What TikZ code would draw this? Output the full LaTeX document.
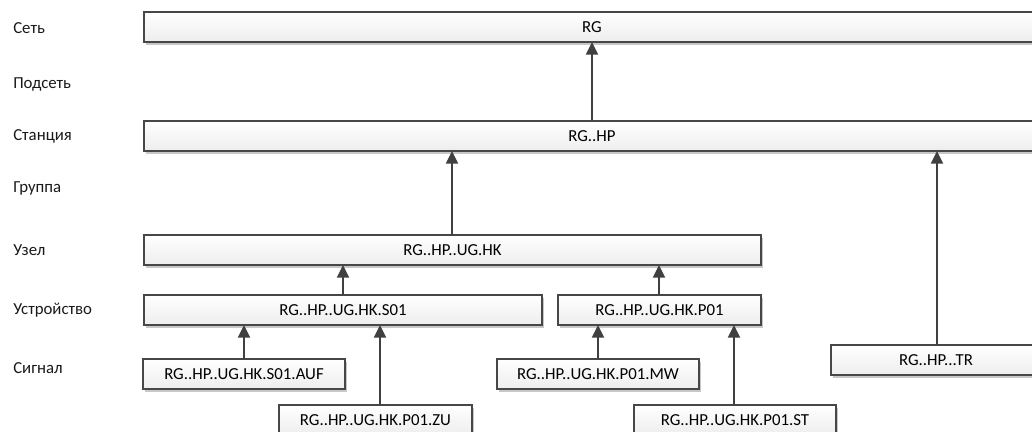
\documentclass[tikz,border=0pt]{standalone}
\usepackage{fontspec}
\setmainfont{Carlito}
\usetikzlibrary{shadows,arrows.meta}
\newcommand\mybox[6]{\node[box, minimum width={(#4-#2)*0.75pt}, minimum height={(#5-#3)*0.75pt}] (#1) at ({(#2+#4)/2},{(#3+#5)/2}) {#6};}
\begin{document}
\begin{tikzpicture}[x=0.75pt,y=-0.75pt,
  font=\fontsize{12.6}{15}\selectfont,
  box/.style={draw=black!72, line width=0.8pt, inner sep=0pt, outer sep=0pt,
    top color=white, bottom color=black!7,
    drop shadow={shadow xshift=1.5pt, shadow yshift=-2pt, fill=black!22, opacity=1}},
  lvl/.style={anchor=west, inner sep=0pt, text=black!90},
  arr/.style={draw=black!75, line width=1.5pt, -{Triangle[width=9pt,length=9.5pt]}}]
\useasboundingbox (0,0) rectangle (1032,432);
% level labels
\node[lvl] (l1) at (13,28) {Сеть};
\node[lvl] (l2) at (13,84) {Подсеть};
\node[lvl] (l3) at (13,136) {Станция};
\node[lvl] (l4) at (13,188) {Группа};
\node[lvl] (l5) at (13,250) {Узел};
\node[lvl] (l6) at (13,310) {Устройство};
\node[lvl] (l7) at (13,368) {Сигнал};
% boxes
\mybox{rg}{144}{12}{1040}{42}{RG}
\mybox{hp}{144}{121}{1040}{151}{RG..HP}
\mybox{hk}{144}{235}{761}{265}{RG..HP..UG.HK}
\mybox{s01}{144}{295}{542}{325}{RG..HP..UG.HK.S01}
\mybox{p01}{558}{295}{761}{325}{RG..HP..UG.HK.P01}
\mybox{auf}{143}{359}{345}{389}{RG..HP..UG.HK.S01.AUF}
\mybox{zu}{279}{405}{472}{435}{RG..HP..UG.HK.P01.ZU}
\mybox{mw}{497}{359}{699}{389}{RG..HP..UG.HK.P01.MW}
\mybox{st}{634}{405}{836}{435}{RG..HP..UG.HK.P01.ST}
\mybox{tr}{831}{345}{1041}{375}{RG..HP...TR}
% arrow columns
\coordinate (c1) at (592,0);
\coordinate (c2) at (452,0);
\coordinate (c3) at (937,0);
\coordinate (c4) at (343,0);
\coordinate (c5) at (659,0);
\coordinate (c6) at (244,0);
\coordinate (c7) at (380,0);
\coordinate (c8) at (598,0);
\coordinate (c9) at (734,0);
\draw[arr] (hp.north -| c1) -- (rg.south -| c1);
\draw[arr] (hk.north -| c2) -- (hp.south -| c2);
\draw[arr] (tr.north -| c3) -- (hp.south -| c3);
\draw[arr] (s01.north -| c4) -- (hk.south -| c4);
\draw[arr] (p01.north -| c5) -- (hk.south -| c5);
\draw[arr] (auf.north -| c6) -- (s01.south -| c6);
\draw[arr] (zu.north -| c7) -- (s01.south -| c7);
\draw[arr] (mw.north -| c8) -- (p01.south -| c8);
\draw[arr] (st.north -| c9) -- (p01.south -| c9);
\end{tikzpicture}
\end{document}
